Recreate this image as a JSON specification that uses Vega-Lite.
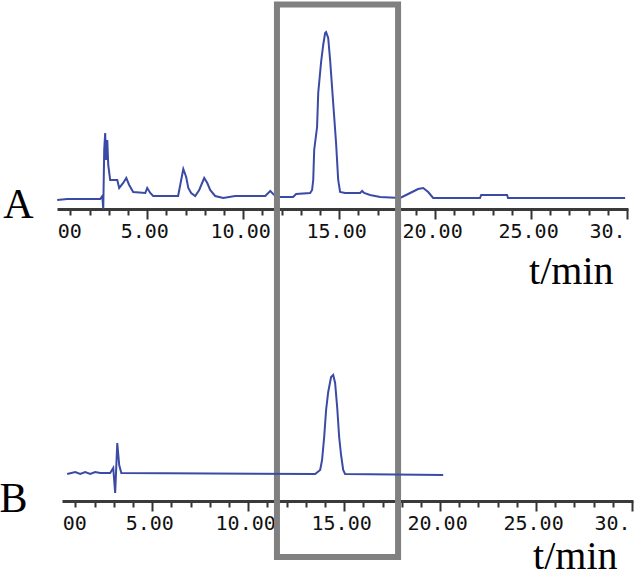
{
  "$schema": "https://vega.github.io/schema/vega-lite/v6.json",
  "autosize": "none",
  "padding": {"left": 57, "top": 0, "right": 7, "bottom": 76},
  "width": 576,
  "height": 501,
  "background": "white",
  "config": {"view": {"stroke": null}, "axis": {"labelOverlap": false, "labelFlush": false, "labelBound": false, "grid": false}},
  "datasets": {
    "A": [
      {"t":0.31,"v":0},{"t":0.83,"v":0.6},{"t":2.55,"v":0.6},{"t":2.66,"v":2.4},{"t":2.71,"v":-5.4},{"t":2.76,"v":30},{"t":2.81,"v":40.2},{"t":2.86,"v":24},{"t":2.92,"v":36},{"t":2.97,"v":21},{"t":3.07,"v":12},{"t":3.44,"v":12},{"t":3.54,"v":7.2},{"t":3.75,"v":10.2},{"t":3.91,"v":13.2},{"t":4.06,"v":9},{"t":4.27,"v":4.8},{"t":4.9,"v":4.2},{"t":5.0,"v":7.2},{"t":5.16,"v":4.2},{"t":5.31,"v":2.4},{"t":6.61,"v":2.4},{"t":6.72,"v":9},{"t":6.88,"v":18.6},{"t":7.03,"v":13.8},{"t":7.14,"v":7.2},{"t":7.29,"v":4.2},{"t":7.5,"v":2.4},{"t":7.71,"v":6},{"t":7.97,"v":13.2},{"t":8.13,"v":10.2},{"t":8.28,"v":6},{"t":8.54,"v":2.4},{"t":8.96,"v":1.2},{"t":9.58,"v":2.4},{"t":11.15,"v":2.4},{"t":11.41,"v":5.4},{"t":11.61,"v":3},{"t":11.93,"v":1.8},{"t":12.6,"v":1.8},{"t":12.76,"v":3.6},{"t":13.49,"v":4.2},{"t":13.59,"v":6},{"t":13.65,"v":12},{"t":13.7,"v":30},{"t":13.85,"v":43.8},{"t":13.91,"v":64.2},{"t":14.06,"v":82.8},{"t":14.17,"v":93},{"t":14.27,"v":100.2},{"t":14.32,"v":100.8},{"t":14.43,"v":97.2},{"t":14.53,"v":84},{"t":14.69,"v":58.2},{"t":14.84,"v":34.2},{"t":14.95,"v":12},{"t":15.05,"v":4.8},{"t":15.31,"v":4.2},{"t":16.09,"v":4.2},{"t":16.2,"v":5.4},{"t":16.3,"v":4.2},{"t":16.61,"v":3},{"t":17.14,"v":1.8},{"t":18.18,"v":1.2},{"t":18.7,"v":4.2},{"t":19.11,"v":6.6},{"t":19.38,"v":7.2},{"t":19.64,"v":4.8},{"t":19.9,"v":1.2},{"t":22.34,"v":1.2},{"t":22.4,"v":3},{"t":23.75,"v":3},{"t":23.8,"v":1.2},{"t":29.9,"v":1.2}
    ],
    "B": [
      {"t":0.57,"v":0},{"t":0.99,"v":1.2},{"t":1.25,"v":0},{"t":1.51,"v":1.2},{"t":1.77,"v":0},{"t":2.03,"v":1.2},{"t":2.29,"v":0.6},{"t":2.81,"v":0.6},{"t":2.97,"v":3.6},{"t":3.07,"v":-11.4},{"t":3.18,"v":18.6},{"t":3.28,"v":5.4},{"t":3.39,"v":0.6},{"t":13.49,"v":0},{"t":13.75,"v":2.4},{"t":13.85,"v":8.4},{"t":13.96,"v":22.2},{"t":14.06,"v":38.4},{"t":14.17,"v":49.2},{"t":14.32,"v":58.2},{"t":14.43,"v":59.4},{"t":14.53,"v":54.6},{"t":14.64,"v":39.6},{"t":14.74,"v":22.2},{"t":14.84,"v":11.4},{"t":14.95,"v":2.4},{"t":15.05,"v":0},{"t":20.16,"v":-0.6}
    ],
    "box": [{"t1": 11.76, "t2": 18.07, "v1": 117.3, "v2": -214.2}],
    "labA": [{"label": "A", "t": -1.71, "v": -10.8}],
    "labB": [{"label": "B", "t": -2.23, "v": -22.8}]
  },
  "layer": [
    {
      "layer": [
        {
          "data": {"name": "A"},
          "mark": {"type": "line", "color": "#3b4ba5", "strokeWidth": 2},
          "encoding": {
            "x": {
              "field": "t", "type": "quantitative",
              "scale": {"domain": [0.3, 30.05], "range": [0, 571], "nice": false, "zero": false},
              "axis": {
                "orient": "bottom", "offset": -292,
                "values": [1,2,3,4,6,7,8,9,11,12,13,14,16,17,18,19,21,22,23,24,26,27,28,29],
                "labels": false, "tickSize": 6, "tickColor": "#333333", "tickWidth": 2,
                "domainColor": "#3a3a3a", "domainWidth": 3, "title": null
              }
            },
            "y": {"field": "v", "type": "quantitative", "scale": {"domain": [-180.6, 120], "nice": false, "zero": false}, "axis": null}
          }
        },
        {
          "data": {"name": "box"},
          "mark": {"type": "rect", "filled": false, "stroke": "#808080", "strokeWidth": 6},
          "encoding": {
            "x": {
              "field": "t1", "type": "quantitative",
              "scale": {"domain": [0, 30.05], "range": [-5.76, 571], "nice": false, "zero": false},
              "axis": {
                "orient": "bottom", "offset": -292, "domain": false,
                "values": [0,5,10,15,20,25,30],
                "labelExpr": "datum.value == 0 ? '00' : datum.value == 30 ? '30.' : format(datum.value, '.2f')",
                "labelFont": "DejaVu Sans Mono", "labelFontSize": 20, "labelColor": "#111111",
                "labelFlush": false, "labelOverlap": false, "labelBound": false, "labelPadding": 2,
                "labelOffset": {"condition": [{"test": "datum.value == 0", "value": 6}, {"test": "datum.value == 30", "value": -2}], "value": -3},
                "labelAlign": {"condition": [{"test": "datum.value == 0", "value": "left"}, {"test": "datum.value == 30", "value": "right"}], "value": "center"},
                "tickSize": 10,
                "tickOpacity": {"condition": {"test": "datum.value == 0", "value": 0}, "value": 1},
                "tickColor": "#333333", "tickWidth": 2,
                "title": "t/min", "titleFont": "Liberation Serif", "titleFontSize": 40, "titleFontWeight": "normal",
                "titleColor": "#000000", "titleAlign": "right", "titleBaseline": "alphabetic", "titleX": 556, "titleY": 74
              }
            },
            "x2": {"field": "t2"},
            "y": {"field": "v1", "type": "quantitative", "axis": null},
            "y2": {"field": "v2"}
          }
        },
        {
          "data": {"name": "labA"},
          "mark": {"type": "text", "font": "Liberation Serif", "fontSize": 42, "align": "center", "baseline": "alphabetic", "color": "#000000"},
          "encoding": {
            "x": {"field": "t", "type": "quantitative", "scale": {"domain": [0.3, 30.05], "range": [0, 571], "nice": false, "zero": false}, "axis": null},
            "y": {"field": "v", "type": "quantitative", "axis": null},
            "text": {"field": "label"}
          }
        }
      ],
      "resolve": {"scale": {"x": "independent"}, "axis": {"x": "independent"}}
    },
    {
      "layer": [
        {
          "data": {"name": "B"},
          "mark": {"type": "line", "color": "#3b4ba5", "strokeWidth": 2},
          "encoding": {
            "x": {
              "field": "t", "type": "quantitative",
              "scale": {"domain": [0.3, 30.05], "range": [5, 576], "nice": false, "zero": false},
              "axis": {
                "orient": "bottom", "offset": 0,
                "values": [1,2,3,4,6,7,8,9,11,12,13,14,16,17,18,19,21,22,23,24,26,27,28,29],
                "labels": false, "tickSize": 6, "tickColor": "#333333", "tickWidth": 2,
                "domainColor": "#3a3a3a", "domainWidth": 3, "title": null
              }
            },
            "y": {"field": "v", "type": "quantitative", "scale": {"domain": [-16.2, 284.4], "nice": false, "zero": false}, "axis": null}
          }
        },
        {
          "data": {"name": "labB"},
          "mark": {"type": "text", "font": "Liberation Serif", "fontSize": 42, "align": "center", "baseline": "alphabetic", "color": "#000000"},
          "encoding": {
            "x": {
              "field": "t", "type": "quantitative",
              "scale": {"domain": [0, 30.05], "range": [-0.76, 576], "nice": false, "zero": false},
              "axis": {
                "orient": "bottom", "offset": 0, "domain": false,
                "values": [0,5,10,15,20,25,30],
                "labelExpr": "datum.value == 0 ? '00' : datum.value == 30 ? '30.' : format(datum.value, '.2f')",
                "labelFont": "DejaVu Sans Mono", "labelFontSize": 20, "labelColor": "#111111",
                "labelFlush": false, "labelOverlap": false, "labelBound": false, "labelPadding": 2,
                "labelOffset": {"condition": [{"test": "datum.value == 0", "value": 6}, {"test": "datum.value == 30", "value": -2}], "value": -3},
                "labelAlign": {"condition": [{"test": "datum.value == 0", "value": "left"}, {"test": "datum.value == 30", "value": "right"}], "value": "center"},
                "tickSize": 10,
                "tickOpacity": {"condition": {"test": "datum.value == 0", "value": 0}, "value": 1},
                "tickColor": "#333333", "tickWidth": 2,
                "title": "t/min", "titleFont": "Liberation Serif", "titleFontSize": 40, "titleFontWeight": "normal",
                "titleColor": "#000000", "titleAlign": "right", "titleBaseline": "alphabetic", "titleX": 560, "titleY": 67
              }
            },
            "y": {"field": "v", "type": "quantitative", "axis": null},
            "text": {"field": "label"}
          }
        }
      ],
      "resolve": {"scale": {"x": "independent"}, "axis": {"x": "independent"}}
    }
  ],
  "resolve": {"scale": {"x": "independent", "y": "independent"}, "axis": {"x": "independent", "y": "independent"}}
}
